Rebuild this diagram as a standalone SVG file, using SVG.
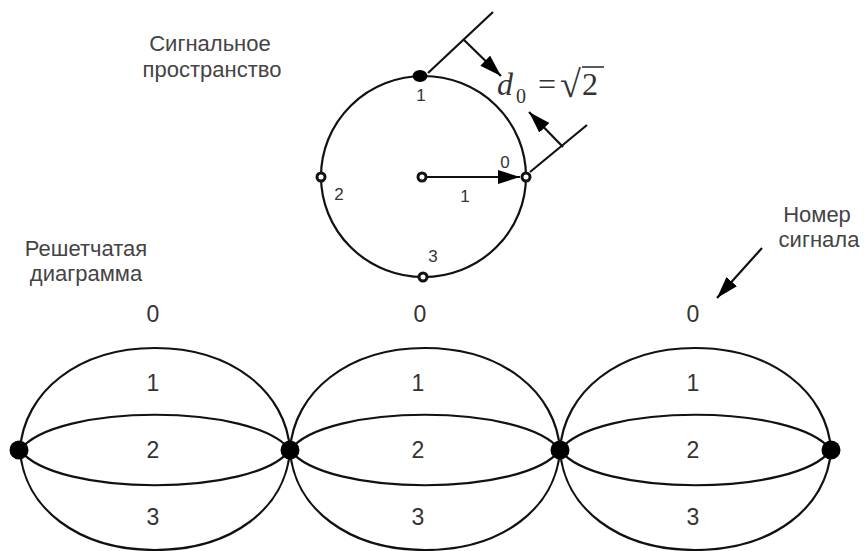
<svg xmlns="http://www.w3.org/2000/svg" width="864" height="551" viewBox="0 0 864 551">
<defs>
<style>
.t{font-family:"Liberation Sans",Arial,sans-serif;fill:#444;text-anchor:middle}
.lab{font-size:22px}
.num{font-size:23px;fill:#333}
.sm{font-size:17px;fill:#333}
.ln{fill:none;stroke:#111;stroke-width:2.2}
.hol{fill:#fff;stroke:#111;stroke-width:3}
.node{fill:#000}
.ser{font-family:"Liberation Serif","Times New Roman",serif;fill:#333}
</style>
<marker id="ah" viewBox="0 0 22 14" refX="22" refY="7" markerWidth="22" markerHeight="14" markerUnits="userSpaceOnUse" orient="auto">
<path d="M0,0 L22,7 L0,14 Z" fill="#000"/>
</marker>
</defs>
<rect width="864" height="551" fill="#fff"/>

<g id="labels">
<text class="t lab" x="210" y="51">Сигнальное</text>
<text class="t lab" x="212" y="77">пространство</text>
<text class="t lab" x="86" y="256">Решетчатая</text>
<text class="t lab" x="86" y="281">диаграмма</text>
<text class="t lab" x="817" y="222">Номер</text>
<text class="t lab" x="819" y="247">сигнала</text>
</g>

<g id="signal-space">
<ellipse class="ln" cx="423.5" cy="176.5" rx="102.5" ry="100.5"/>
<line class="ln" x1="422" y1="177" x2="520" y2="177" marker-end="url(#ah)"/>
<ellipse class="node" cx="420" cy="76" rx="7.5" ry="6"/>
<circle class="hol" cx="422" cy="177" r="4"/>
<circle class="hol" cx="526" cy="177" r="4"/>
<circle class="hol" cx="321" cy="177" r="4"/>
<circle class="hol" cx="423" cy="277" r="4"/>
<text class="t sm" x="421" y="101">1</text>
<text class="t sm" x="505" y="168">0</text>
<text class="t sm" x="339" y="200">2</text>
<text class="t sm" x="465" y="202">1</text>
<text class="t sm" x="433" y="262">3</text>
</g>

<g id="distance">
<line class="ln" x1="428" y1="73" x2="493" y2="12"/>
<line class="ln" x1="530" y1="172" x2="587" y2="125"/>
<line class="ln" x1="463" y1="39" x2="501" y2="76" marker-end="url(#ah)"/>
<line class="ln" x1="563" y1="147" x2="529" y2="112" marker-end="url(#ah)"/>
<text class="ser" x="497" y="95" font-size="32" font-style="italic">d</text>
<text class="ser" x="516" y="103" font-size="20">0</text>
<text class="ser" x="538" y="95" font-size="32">=</text>
<text class="ser" x="560" y="97" font-size="38">√</text>
<line x1="582" y1="67" x2="604" y2="67" stroke="#333" stroke-width="1.6"/>
<text class="ser" x="582" y="95" font-size="32">2</text>
</g>

<g id="connectors">
<path class="ln" d="M20,450 C24,392 78,348 155,348 C232,348 286,392 290,450"/>
<path class="ln" d="M20,450 C24,508 78,550 155,550 C232,550 286,508 290,450"/>
<path class="ln" d="M20,450 C55,403 255,403 290,450"/>
<path class="ln" d="M20,450 C55,497 255,497 290,450"/>
<path class="ln" d="M290,450 C294,392 348,348 425,348 C502,348 556,392 560,450"/>
<path class="ln" d="M290,450 C294,508 348,550 425,550 C502,550 556,508 560,450"/>
<path class="ln" d="M290,450 C325,403 525,403 560,450"/>
<path class="ln" d="M290,450 C325,497 525,497 560,450"/>
<path class="ln" d="M560,450 C564,392 618,348 695,348 C772,348 827,392 831,450"/>
<path class="ln" d="M560,450 C564,508 618,550 695,550 C772,550 827,508 831,450"/>
<path class="ln" d="M560,450 C595,403 796,403 831,450"/>
<path class="ln" d="M560,450 C595,497 796,497 831,450"/>
<line class="ln" x1="762" y1="248" x2="717" y2="298" marker-end="url(#ah)"/>
</g>

<g id="node-0"><circle class="node" cx="19" cy="450" r="9.5"/></g>
<g id="node-1"><circle class="node" cx="290" cy="450" r="9.5"/></g>
<g id="node-2"><circle class="node" cx="560" cy="450" r="9.5"/></g>
<g id="node-3"><circle class="node" cx="831" cy="450" r="9.5"/></g>

<g id="trellis-labels">
<text class="t num" x="153" y="322">0</text>
<text class="t num" x="153" y="391">1</text>
<text class="t num" x="153" y="458">2</text>
<text class="t num" x="153" y="525">3</text>
<text class="t num" x="420" y="322">0</text>
<text class="t num" x="418" y="391">1</text>
<text class="t num" x="418" y="458">2</text>
<text class="t num" x="418" y="525">3</text>
<text class="t num" x="693" y="322">0</text>
<text class="t num" x="693" y="391">1</text>
<text class="t num" x="693" y="458">2</text>
<text class="t num" x="693" y="525">3</text>
</g>
</svg>
